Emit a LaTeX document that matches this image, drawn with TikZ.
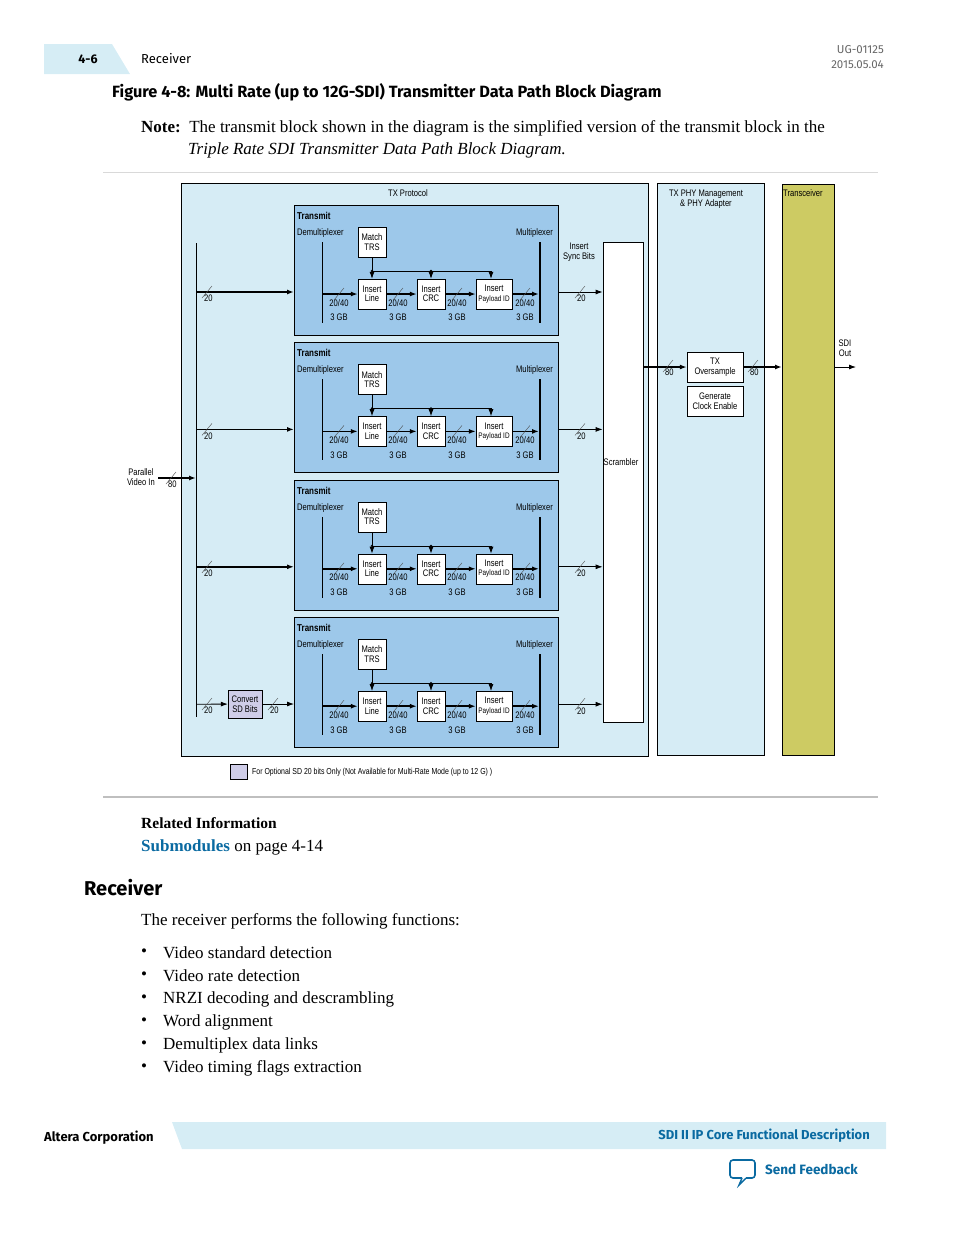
\documentclass[tikz,border=0pt]{standalone}
\usepackage{fontspec}
\setmainfont{Liberation Serif}
\newfontfamily\dfont{Liberation Sans}[FakeStretch=0.8]
\newfontfamily\hfont{Fira Sans}
\usetikzlibrary{arrows.meta,positioning}
\definecolor{bandblue}{HTML}{D6EDF5}
\definecolor{protblue}{HTML}{D6ECF5}
\definecolor{txblue}{HTML}{9DC8EA}
\definecolor{olive}{HTML}{CDCB63}
\definecolor{sdpurple}{HTML}{CFCDE8}
\definecolor{linkblue}{HTML}{0A6AA1}
\newcommand\buslab[3]{%
  \draw[gray!60!black, thin] (#1-5,#2+6) -- (#1+5,#2-6);
  \node[lbl, anchor=north west, inner sep=0pt] at (#1-3,#2+3) {#3};}

\begin{document}
\begin{tikzpicture}[x=1pt, y=-1pt,
    lbl/.style={font=\dfont\fontsize{9.5}{10.5}\selectfont, inner sep=1pt, align=center},
    block/.style={draw, fill=white, lbl, minimum width=28pt, minimum height=30pt, inner sep=0pt},
    panel/.style={draw, fill=protblue, thick},
    arrow/.style={-{Latex[length=7pt,width=5pt]}},
    bus/.style={arrow, line width=1.6pt},
    wire/.style={arrow, line width=0.8pt},
    bodytxt/.style={font=\fontsize{17}{20}\selectfont, inner sep=0pt, anchor=west},
    head/.style={font=\hfont\fontsize{13}{15}\selectfont, inner sep=0pt}
]
\useasboundingbox (0,0) rectangle (954,1235);

% Page header
\fill[bandblue] (44,44) -- (112,44) -- (130,74) -- (44,74) -- cycle;
\node[head, font=\hfont\bfseries\fontsize{12.5}{14}\selectfont] (pnum) at (88,59) {4-6};
\node[head, anchor=west, font=\hfont\fontsize{13}{14}\selectfont] (sect) at (141,59) {Receiver};
\node[head, anchor=east, align=right, text=gray!80!black, font=\hfont\fontsize{11.5}{15}\selectfont] (docid) at (884,57) {UG-01125\\2015.05.04};
\node[head, anchor=west, font=\hfont\bfseries\fontsize{16.3}{18}\selectfont] (figtitle) at (112,92) {Figure 4-8: Multi Rate (up to 12G-SDI) Transmitter Data Path Block Diagram};
\node[bodytxt] (note) at (141,128) {\textbf{Note:}\ \ The transmit block shown in the diagram is the simplified version of the transmit block in the};
\node[bodytxt] (note2) at (188,150) {\textit{Triple Rate SDI Transmitter Data Path Block Diagram.}};
\draw[gray!30] (103,172) -- (878,172);

% Main panels
\draw[panel] (181,183) rectangle (648,756);
\node[lbl] (prot) at (408,193) {TX Protocol};
\draw[panel] (657,183) rectangle (764,755);
\node[lbl] (phy) at (706,199) {TX PHY Management\\[-1pt]\& PHY Adapter};
\draw[thick, fill=olive] (782,184) rectangle (834,755);
\node[lbl, anchor=west, inner sep=0pt] (xcvr) at (783,193) {Transceiver};
\node[draw, fill=white, thick, minimum width=40pt, minimum height=480pt, inner sep=0pt] (scr) at (623,482) {};
\node[lbl] (scrl) at (621,462) {Scrambler};
\node[lbl] (sync) at (579,252) {Insert\\[-1pt]Sync Bits};

% Input distribution
\coordinate (vtop) at (196,243);
\coordinate (vbot) at (196,717);
\draw[line width=0.8pt] (vtop) -- (vbot);
\node[lbl, anchor=east] (pvi) at (156,477) {Parallel\\[-1pt]Video In};
\coordinate (pvis) at (158,478);
\draw[bus] (pvis) -- (vtop |- pvis);
\buslab{171}{478}{80}

% Four transmit paths
\foreach \i in {0,1,2,3} {
  \pgfmathsetmacro\yo{205+137.4*\i}
  \node[draw, thick, fill=txblue, minimum width=264pt, minimum height=130pt, inner sep=0pt, anchor=north west] (tr\i) at (294,\yo) {};
  \node[lbl, anchor=west, font=\dfont\bfseries\fontsize{10}{11}\selectfont, inner sep=0pt] at (297,\yo+11) {Transmit};
  \node[lbl, anchor=west, inner sep=0pt] at (297,\yo+28) {Demultiplexer};
  \node[lbl, anchor=east, inner sep=0pt] at (553,\yo+28) {Multiplexer};
  \node[block] (mtrs\i) at (372,\yo+37) {Match\\[-1pt]TRS};
  \node[block] (iline\i) at (372,\yo+89) {Insert\\[-1pt]Line};
  \node[block] (icrc\i) at (431,\yo+89) {Insert\\[-1pt]CRC};
  \node[block, minimum width=36pt] (ipay\i) at (494,\yo+89) {Insert\\[-1pt]{\fontsize{8}{9}\selectfont Payload ID}};
  \draw[line width=0.8pt] (322,\yo+37) -- (322,\yo+118);
  \draw[line width=2.2pt] (540,\yo+37) -- (540,\yo+118);
  \coordinate (dm\i) at (322,\yo+89);
  \coordinate (mx\i) at (539,\yo+89);
  \coordinate (bus\i) at (372,\yo+66);
  \coordinate (busr\i) at (491,\yo+66);
  % control bus
  \draw[line width=0.6pt] (mtrs\i) -- (bus\i) -- (busr\i);
  \fill (bus\i) circle (1.3pt) (431,\yo+66) circle (1.3pt);
  \draw[wire] (bus\i) -- (iline\i.north);
  \draw[wire] (icrc\i.north |- bus\i) -- (icrc\i.north);
  \draw[wire] (busr\i) -- (busr\i |- ipay\i.north);
  % data path
  \draw[bus] (dm\i) -- (iline\i.west);
  \draw[bus] (iline\i) -- (icrc\i);
  \draw[bus] (icrc\i) -- (ipay\i);
  \draw[bus] (ipay\i) -- (mx\i);
  \foreach \xx in {339,398,457,525} {
    \draw[gray!60!black, thin] (\xx-5,\yo+95) -- (\xx+5,\yo+83);
    \node[lbl, anchor=north, inner sep=0pt] at (\xx,\yo+94) {20/40};
    \node[lbl, anchor=north, inner sep=0pt] at (\xx,\yo+109) {3 GB};
  }
  % output to scrambler
  \coordinate (out\i) at (558,\yo+87);
  \draw[wire] (out\i) -- (scr.west |- out\i);
  \buslab{580}{\yo+87}{20}
  % input
  \coordinate (in\i) at (196,\yo+87);
}
\draw[bus] (in0) -- (tr0.west |- in0);
\draw[bus] (in1) -- (tr1.west |- in1);
\draw[bus] (in2) -- (tr2.west |- in2);
\buslab{207}{292}{20}
\buslab{207}{429.4}{20}
\buslab{207}{566.8}{20}
\node[draw, fill=sdpurple, lbl, minimum width=34pt, minimum height=28pt, inner sep=0pt] (sdconv) at (245,704) {Convert\\[-1pt]SD Bits};
\draw[wire] (in3) -- (sdconv);
\draw[wire] (sdconv) -- (tr3.west |- sdconv);
\buslab{207}{704}{20}
\buslab{273}{704}{20}

% PHY path
\node[block, minimum width=56pt] (ovs) at (715,367) {TX\\[-1pt]Oversample};
\node[block, minimum width=56pt, below=4pt of ovs] (gce) {Generate\\[-1pt]Clock Enable};
\draw[bus] (scr.east |- ovs) -- (ovs);
\buslab{668}{366}{80}
\draw[bus] (ovs) -- (782,367);
\buslab{753}{366}{80}
\node[lbl] (sdi) at (845,348) {SDI\\[-1pt]Out};
\coordinate (sdo) at (856,367);
\draw[wire] (834,367) -- (sdo);

% Legend
\node[draw, fill=sdpurple, minimum width=17pt, minimum height=15pt, inner sep=0pt] (legsq) at (238.5,771.5) {};
\node[lbl, anchor=west, font=\dfont\fontsize{8.7}{9}\selectfont] (legtx) at (251,772) {For Optional SD 20 bits Only (Not Available for Multi-Rate Mode (up to 12 G) )};
\draw[gray!50, line width=1.5pt] (103,797) -- (878,797);

% Body text
\node[bodytxt, font=\bfseries\fontsize{15.5}{18}\selectfont] (relinfo) at (141,823) {Related Information};
\node[bodytxt] (submod) at (141,847) {\textcolor{linkblue}{\textbf{Submodules}} on page 4-14};
\node[head, anchor=west, font=\hfont\bfseries\fontsize{20}{22}\selectfont] (rxhead) at (84,888) {Receiver};
\node[bodytxt] (rxintro) at (141,921) {The receiver performs the following functions:};
\foreach \t [count=\k from 0] in {Video standard detection, Video rate detection, NRZI decoding and descrambling, Word alignment, Demultiplex data links, Video timing flags extraction} {
  \node[bodytxt] (bul\k) at (141,953+23*\k) {\textbullet};
  \node[bodytxt] (item\k) at (163,953+23*\k) {\t};
}

% Page footer
\node[head, anchor=west, font=\hfont\bfseries\fontsize{13}{14}\selectfont] (corp) at (44,1138) {Altera Corporation};
\fill[bandblue] (172,1122) -- (886,1122) -- (886,1149) -- (182,1149) -- cycle;
\node[head, anchor=east, text=linkblue, font=\hfont\bfseries\fontsize{13}{14}\selectfont] (ftitle) at (870,1136) {SDI II IP Core Functional Description};
\draw[linkblue, line width=1.6pt, rounded corners=3pt] (742,1178) -- (730,1178) -- (730,1160) -- (755,1160) -- (755,1178) -- (746,1178);
\draw[linkblue, line width=1.4pt] (746,1178) -- (739,1185) -- (742,1178);
\node[head, anchor=west, text=linkblue, font=\hfont\bfseries\fontsize{13.5}{14}\selectfont] (fb) at (765,1169) {Send Feedback};
\end{tikzpicture}
\end{document}
